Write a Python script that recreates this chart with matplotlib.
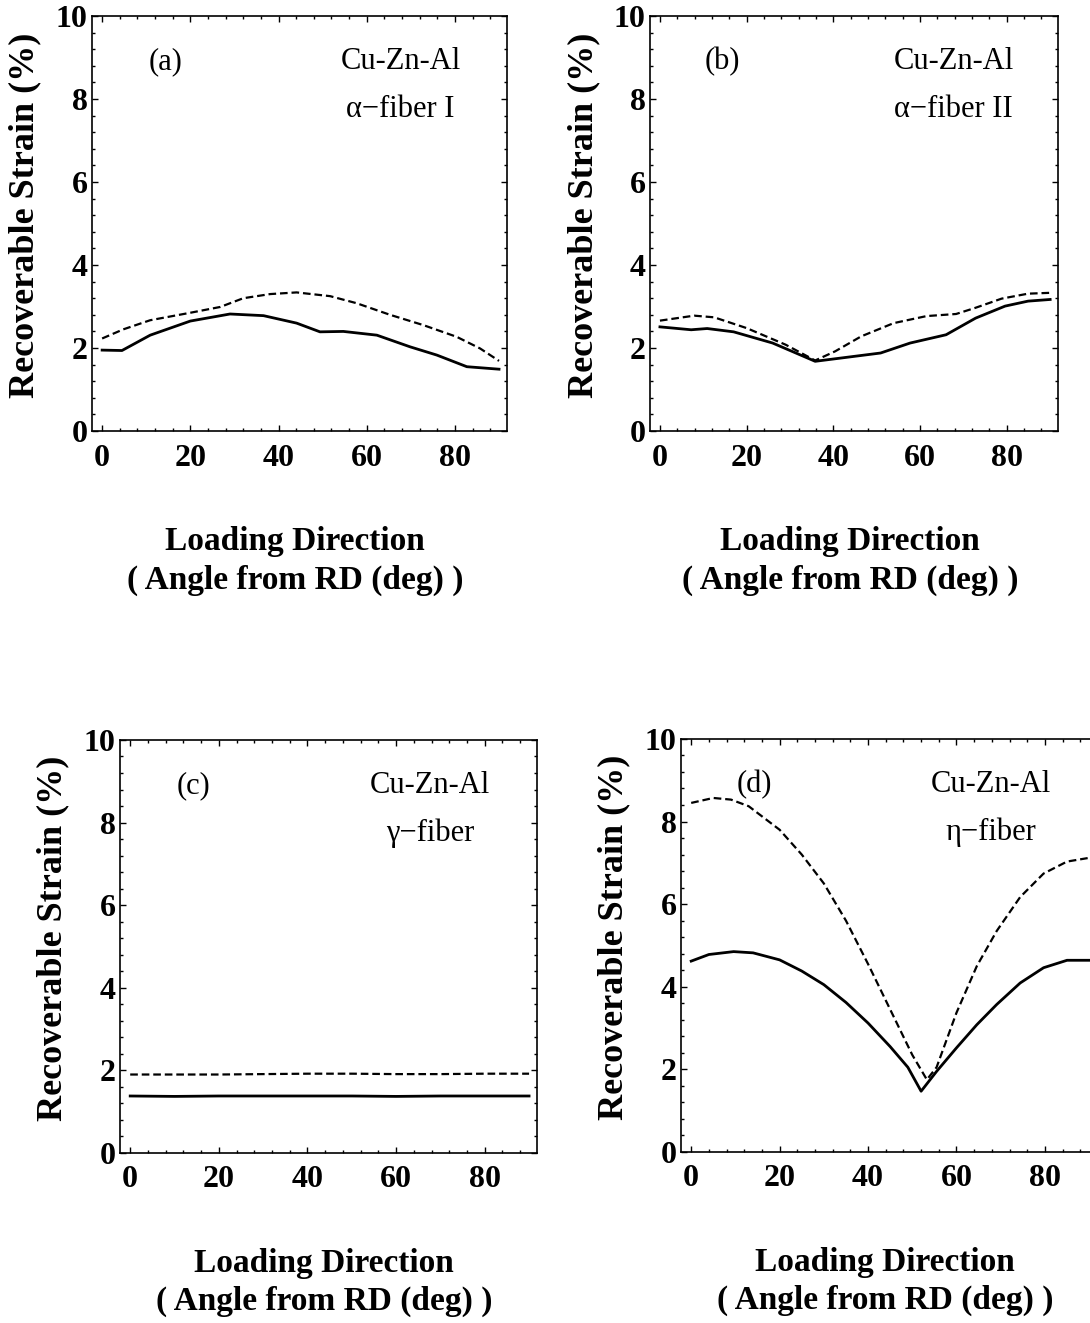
import numpy as np
import matplotlib
matplotlib.use("Agg")
import matplotlib.pyplot as plt
from matplotlib.ticker import MultipleLocator

plt.rcParams['font.family'] = ['Liberation Serif', 'DejaVu Serif']
plt.rcParams['lines.scale_dashes'] = False

# (a) alpha-fiber I
a_x_solid = [0, 4.5, 10.9, 20, 29, 36.6, 44.1, 49.4, 54.7, 62.3, 69.8, 75.9, 82.7, 90]
a_solid = [1.95, 1.94, 2.31, 2.65, 2.82, 2.78, 2.60, 2.39, 2.40, 2.31, 2.03, 1.83, 1.55, 1.49]
a_x_dash = [0, 4.8, 10.9, 20, 26.8, 32, 38.1, 44.1, 51.7, 57.7, 65.3, 72.9, 80.4, 85.7, 90]
a_dash = [2.23, 2.45, 2.67, 2.85, 2.99, 3.20, 3.30, 3.34, 3.25, 3.08, 2.80, 2.55, 2.27, 1.99, 1.69]

# (b) alpha-fiber II
b_x_solid = [0, 7.2, 10.9, 17, 26, 35.8, 42.6, 50.9, 57.7, 66, 72.8, 79.6, 84.9, 90]
b_solid = [2.51, 2.44, 2.47, 2.39, 2.12, 1.68, 1.77, 1.88, 2.12, 2.32, 2.72, 3.01, 3.13, 3.17]
b_x_dash = [0, 7.9, 12.5, 20, 29, 35.8, 40.4, 46.4, 53.9, 61.5, 68.3, 72.8, 78.8, 84.9, 90]
b_dash = [2.66, 2.78, 2.74, 2.48, 2.08, 1.70, 1.92, 2.28, 2.60, 2.77, 2.82, 2.97, 3.19, 3.31, 3.33]

# (c) gamma-fiber
c_x = [0, 10, 20, 30, 40, 50, 60, 70, 80, 90]
c_solid = [1.38, 1.37, 1.38, 1.38, 1.38, 1.38, 1.37, 1.38, 1.38, 1.38]
c_dash = [1.90, 1.90, 1.90, 1.91, 1.92, 1.92, 1.91, 1.91, 1.92, 1.92]

# (d) eta-fiber
d_x_solid = [0, 4, 9.6, 14, 20, 25, 30, 35, 40, 45, 49, 52, 55.5, 60, 64.6, 69.1, 74.4, 79.7, 85, 90]
d_solid = [4.62, 4.78, 4.85, 4.82, 4.65, 4.38, 4.05, 3.62, 3.12, 2.55, 2.05, 1.47,
           1.95, 2.52, 3.08, 3.57, 4.09, 4.46, 4.64, 4.64]
d_x_dash = [0, 5, 9, 13, 20, 25, 30, 35, 40, 45, 50, 53.3, 55.5, 60, 64.6, 69.1, 74.4, 79.7, 85, 90]
d_dash = [8.45, 8.57, 8.53, 8.37, 7.8, 7.2, 6.5, 5.6, 4.55, 3.45, 2.35, 1.75,
          2.05, 3.37, 4.5, 5.35, 6.17, 6.74, 7.03, 7.12]

panels = [
    ("(a)", "α−fiber I", a_x_solid, a_solid, a_x_dash, a_dash, [0.0844, 0.6742, 0.3807, 0.3137]),
    ("(b)", "α−fiber II", b_x_solid, b_solid, b_x_dash, b_dash, [0.5963, 0.6742, 0.3743, 0.3137]),
    ("(c)", "γ−fiber", c_x, c_solid, c_x, c_dash, [0.1101, 0.1285, 0.3826, 0.3122]),
    ("(d)", "η−fiber", d_x_solid, d_solid, d_x_dash, d_dash, [0.6248, 0.1293, 0.3817, 0.3122]),
]

fig = plt.figure(figsize=(10.9, 13.23), dpi=100)

for tag, fiber, xs, ys, xd, yd, rect in panels:
    ax = fig.add_axes(rect)
    ax.plot(xs, ys, color='black', lw=2.0, solid_joinstyle='round')
    ax.plot(xd, yd, color='black', lw=1.6, linestyle=(0, (5.5, 2.8)))
    ax.set_xlim(-2.3, 91.8)
    ax.set_ylim(0, 10)
    ax.xaxis.set_major_locator(MultipleLocator(20))
    ax.xaxis.set_minor_locator(MultipleLocator(4))
    ax.yaxis.set_major_locator(MultipleLocator(2))
    ax.yaxis.set_minor_locator(MultipleLocator(0.4))
    ax.tick_params(which='both', direction='in', top=True, right=True, width=1)
    ax.tick_params(which='major', length=4)
    ax.tick_params(which='minor', length=2)
    ax.tick_params(axis='x', pad=9)
    ax.tick_params(axis='y', pad=3)
    for lab in ax.get_xticklabels() + ax.get_yticklabels():
        lab.set_fontsize(23)
        lab.set_fontweight('bold')
    for s in ax.spines.values():
        s.set_linewidth(1.2)

    ax.text(14.3, 8.9, tag, fontsize=22, ha='center', va='center')
    ax.text(67.7, 8.9, "Cu-Zn-Al", fontsize=22, ha='center', va='center')
    ax.text(67.7, 7.75, fiber, fontsize=22, ha='center', va='center')

    ax.text(-0.162, 0.52, "Recoverable Strain (%)", transform=ax.transAxes,
            rotation=90, fontsize=26, fontweight='bold', ha='center', va='center')
    ax.text(0.49, -0.267, "Loading Direction", transform=ax.transAxes,
            fontsize=24, fontweight='bold', ha='center', va='center')
    ax.text(0.49, -0.36, "( Angle from RD (deg) )", transform=ax.transAxes,
            fontsize=24, fontweight='bold', ha='center', va='center')

fig.savefig("out.png", dpi=100)
